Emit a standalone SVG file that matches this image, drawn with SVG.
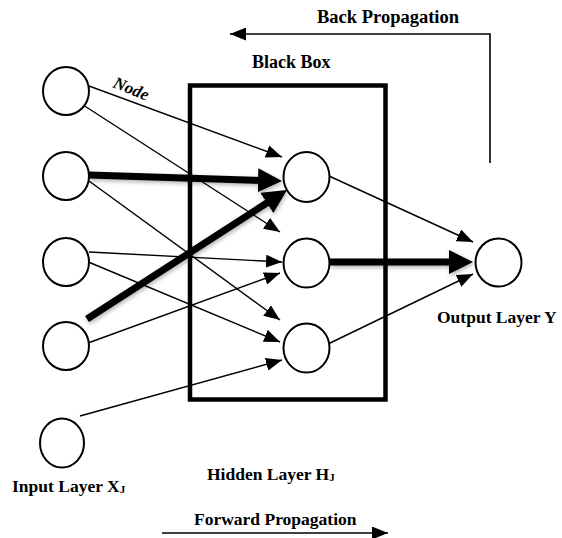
<svg xmlns="http://www.w3.org/2000/svg" width="562" height="538" viewBox="0 0 562 538">
  <style>
    .node { fill: #fff; stroke: #000; stroke-width: 2; }
    .box { fill: none; stroke: #000; stroke-width: 4.5; }
    .thin { fill: none; stroke: #000; stroke-width: 1.4; marker-end: url(#tip); }
    .thick { fill: none; stroke: #000; stroke-width: 7; marker-end: url(#bigtip); filter: url(#shade); }
    .flow { fill: none; stroke: #000; stroke-width: 1.6; marker-end: url(#tip); }
    text { font-family: "Liberation Serif", "Times New Roman", serif; font-weight: bold; fill: #000; }
  </style>
  <defs>
    <marker id="tip" markerUnits="userSpaceOnUse" markerWidth="17" markerHeight="13" refX="16" refY="6.5" orient="auto">
      <path d="M0,0 L16,6.5 L0,13 z" fill="#000"/>
    </marker>
    <marker id="bigtip" markerUnits="userSpaceOnUse" markerWidth="26" markerHeight="24" refX="4" refY="12" orient="auto">
      <path d="M0,0 L24,12 L0,24 z" fill="#000"/>
    </marker>
    <filter id="shade" filterUnits="userSpaceOnUse" x="0" y="0" width="562" height="538">
      <feDropShadow dx="1" dy="2" stdDeviation="2" flood-color="#000" flood-opacity="0.3"/>
    </filter>
  </defs>

  <!-- hidden layer container -->
  <g id="black-box">
    <rect class="box" x="190" y="85.5" width="195.5" height="314"/>
    <text x="252" y="68" font-size="18">Black Box</text>
  </g>

  <!-- weighted links between layers -->
  <g id="connectors">
    <line class="thin" x1="89" y1="86" x2="282" y2="157"/>
    <line class="thin" x1="80" y1="103" x2="280" y2="232"/>
    <line class="thin" x1="89" y1="181" x2="280" y2="320"/>
    <line class="thin" x1="89" y1="252" x2="282" y2="262"/>
    <line class="thin" x1="86" y1="261" x2="280" y2="342"/>
    <line class="thin" x1="88" y1="343" x2="280" y2="273"/>
    <line class="thin" x1="80" y1="416" x2="282" y2="360"/>
    <line class="thin" x1="329" y1="176" x2="473" y2="242"/>
    <line class="thin" x1="328" y1="344" x2="473" y2="274"/>
    <line class="thick" x1="89" y1="175" x2="262" y2="180.4"/>
    <line class="thick" x1="87" y1="319" x2="270.2" y2="200.8"/>
    <line class="thick" x1="330" y1="262" x2="453" y2="262"/>
    <!-- training direction arrows -->
    <polyline class="flow" points="490,163 490,34 230,34"/>
    <line class="flow" x1="162" y1="533" x2="388" y2="533"/>
  </g>

  <!-- input layer -->
  <g id="input-1"><ellipse class="node" cx="66" cy="91" rx="23" ry="24"/></g>
  <g id="input-2"><ellipse class="node" cx="66" cy="176" rx="23" ry="24"/></g>
  <g id="input-3"><ellipse class="node" cx="66" cy="262" rx="23" ry="24"/></g>
  <g id="input-4"><ellipse class="node" cx="66" cy="346" rx="23" ry="24"/></g>
  <g id="input-5"><ellipse class="node" cx="62" cy="443" rx="22" ry="24.5"/></g>

  <!-- hidden layer -->
  <g id="hidden-1"><ellipse class="node" cx="306.5" cy="177" rx="23" ry="25"/></g>
  <g id="hidden-2"><ellipse class="node" cx="306.5" cy="263" rx="23" ry="24.5"/></g>
  <g id="hidden-3"><ellipse class="node" cx="306.5" cy="348" rx="23" ry="24.5"/></g>

  <!-- output layer -->
  <g id="output-1"><ellipse class="node" cx="498.5" cy="262.5" rx="23" ry="24"/></g>

  <!-- labels -->
  <g id="labels">
    <text x="112" y="87" font-size="17" font-style="italic" transform="rotate(22 112 87)">Node</text>
    <text x="317" y="23" font-size="18.5">Back Propagation</text>
    <text x="437" y="323" font-size="17.5">Output Layer Y</text>
    <text x="12" y="492" font-size="17.5">Input Layer X<tspan font-size="11" dy="1">J</tspan></text>
    <text x="207" y="480" font-size="17.5">Hidden Layer H<tspan font-size="11" dy="1">J</tspan></text>
    <text x="194" y="525" font-size="17.5">Forward Propagation</text>
  </g>
</svg>
